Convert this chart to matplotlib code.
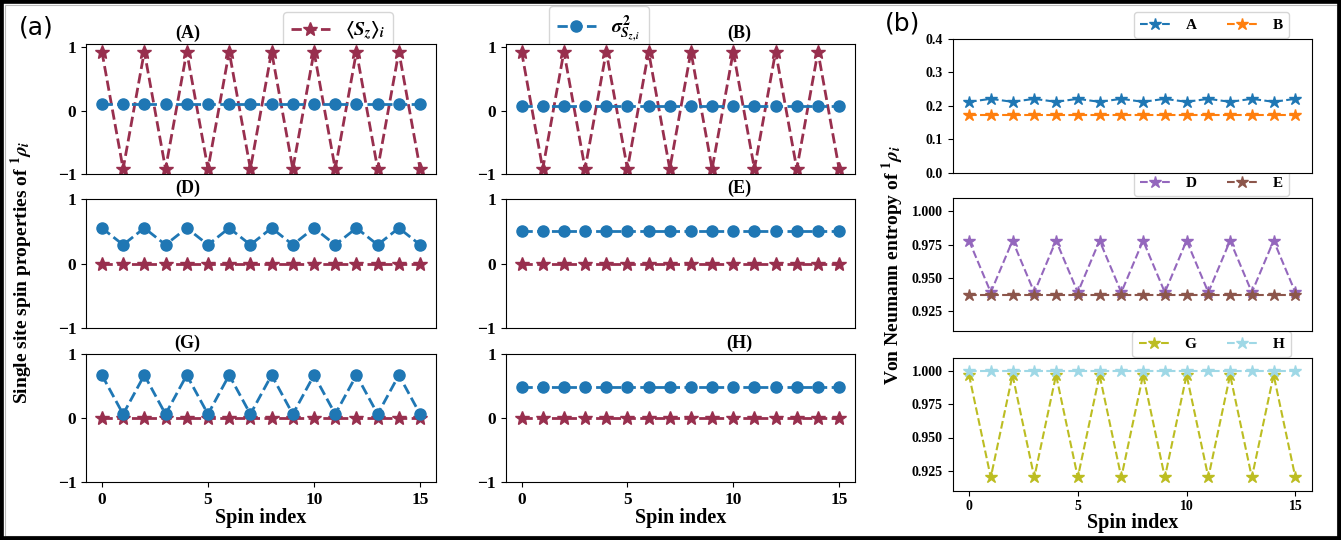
import numpy as np
import matplotlib
matplotlib.use("Agg")
import matplotlib.pyplot as plt
from matplotlib.patches import Rectangle
from matplotlib.lines import Line2D

plt.rcParams['font.family'] = ['Liberation Serif', 'DejaVu Serif']
plt.rcParams['font.weight'] = 'bold'
plt.rcParams['axes.labelweight'] = 'bold'
plt.rcParams['mathtext.fontset'] = 'stix'

# ---------------- data ----------------
spin_index = list(range(16))
xticks = [0, 5, 10, 15]

# panel (a): <S_z>_i
sz_A = [0.93, -0.92, 0.93, -0.92, 0.93, -0.92, 0.93, -0.92,
        0.93, -0.92, 0.93, -0.92, 0.93, -0.92, 0.93, -0.92]
sz_B = [0.93, -0.92, 0.93, -0.92, 0.93, -0.92, 0.93, -0.92,
        0.93, -0.92, 0.93, -0.92, 0.93, -0.92, 0.93, -0.92]
sz_D = [0.0] * 16
sz_E = [0.0] * 16
sz_G = [0.0] * 16
sz_H = [0.0] * 16

# panel (a): sigma^2
sig_A = [0.11, 0.11, 0.11, 0.11, 0.11, 0.11, 0.11, 0.11,
         0.11, 0.11, 0.11, 0.11, 0.11, 0.11, 0.11, 0.11]
sig_B = [0.08, 0.08, 0.08, 0.08, 0.08, 0.08, 0.08, 0.08,
         0.08, 0.08, 0.08, 0.08, 0.08, 0.08, 0.08, 0.08]
sig_D = [0.55, 0.29, 0.55, 0.29, 0.55, 0.29, 0.55, 0.29,
         0.55, 0.29, 0.55, 0.29, 0.55, 0.29, 0.55, 0.29]
sig_E = [0.51, 0.51, 0.51, 0.51, 0.51, 0.51, 0.51, 0.51,
         0.51, 0.51, 0.51, 0.51, 0.51, 0.51, 0.51, 0.51]
sig_G = [0.67, 0.06, 0.67, 0.06, 0.67, 0.06, 0.67, 0.06,
         0.67, 0.06, 0.67, 0.06, 0.67, 0.06, 0.67, 0.06]
sig_H = [0.49, 0.49, 0.49, 0.49, 0.49, 0.49, 0.49, 0.49,
         0.49, 0.49, 0.49, 0.49, 0.49, 0.49, 0.49, 0.49]

# panel (b): von Neumann entropy
S_A = [0.212, 0.221, 0.212, 0.221, 0.212, 0.221, 0.212, 0.221,
       0.212, 0.221, 0.212, 0.221, 0.212, 0.221, 0.212, 0.221]
S_B = [0.173, 0.173, 0.173, 0.173, 0.173, 0.173, 0.173, 0.173,
       0.173, 0.173, 0.173, 0.173, 0.173, 0.173, 0.173, 0.173]
S_D = [0.978, 0.939, 0.978, 0.939, 0.978, 0.939, 0.978, 0.939,
       0.978, 0.939, 0.978, 0.939, 0.978, 0.939, 0.978, 0.939]
S_E = [0.937, 0.937, 0.937, 0.937, 0.937, 0.937, 0.937, 0.937,
       0.937, 0.937, 0.937, 0.937, 0.937, 0.937, 0.937, 0.937]
S_G = [0.997, 0.920, 0.997, 0.920, 0.997, 0.920, 0.997, 0.920,
       0.997, 0.920, 0.997, 0.920, 0.997, 0.920, 0.997, 0.920]
S_H = [1.000, 1.000, 1.000, 1.000, 1.000, 1.000, 1.000, 1.000,
       1.000, 1.000, 1.000, 1.000, 1.000, 1.000, 1.000, 1.000]

left_titles = ['(A)', '(B)', '(D)', '(E)', '(G)', '(H)']
sz_series = [sz_A, sz_B, sz_D, sz_E, sz_G, sz_H]
sig_series = [sig_A, sig_B, sig_D, sig_E, sig_G, sig_H]

right_labels = [('A', 'B'), ('D', 'E'), ('G', 'H')]
right_series = [(S_A, S_B), (S_D, S_E), (S_G, S_H)]
right_colors = [('#1f77b4', '#ff7f0e'), ('#9467bd', '#8c564b'), ('#bcbd22', '#9fd8e6')]
right_ylims = [(0.0, 0.4), (0.91, 1.01), (0.91, 1.01)]
right_yticks = [[0.0, 0.1, 0.2, 0.3, 0.4], [0.925, 0.950, 0.975, 1.000], [0.925, 0.950, 0.975, 1.000]]

SZ_COLOR = '#982f4e'
SIG_COLOR = '#1f77b4'

W, H = 1341, 540
fig = plt.figure(figsize=(W / 100, H / 100), dpi=100)

def frac(x0, y0, x1, y1):
    return [x0 / W, 1 - y1 / H, (x1 - x0) / W, (y1 - y0) / H]

col_x = [(86, 436), (505.7, 855)]
row_y = [(44, 174), (199, 328), (354, 482)]
title_x = [0.29, 0.67]

left_axes = []
for r in range(3):
    for c in range(2):
        k = r * 2 + c
        ax = fig.add_axes(frac(col_x[c][0], row_y[r][0], col_x[c][1], row_y[r][1]))
        ax.plot(spin_index, sz_series[k], ls='--', marker='*', color=SZ_COLOR,
                lw=2, ms=10)
        ax.plot(spin_index, sig_series[k], ls='--', marker='o', color=SIG_COLOR,
                lw=2, ms=8)
        if r == 0:
            ax.set_ylim(-1.0, 1.05)
        else:
            ax.set_ylim(-1.0, 1.0)
        ax.set_yticks([-1, 0, 1])
        ax.tick_params(labelsize=12.5)
        if r < 2:
            ax.set_xticks([])
        else:
            ax.set_xticks(xticks)
            ax.set_xlabel('Spin index', fontsize=14.5, labelpad=0)
        ax.text(title_x[c], 1.085, left_titles[k], transform=ax.transAxes,
                ha='center', va='center', fontsize=13, fontweight='bold')
        left_axes.append(ax)

# left legends (drawn behind axes)
h_sz = Line2D([], [], ls='--', marker='*', color=SZ_COLOR, lw=2, ms=10)
h_sig = Line2D([], [], ls='--', marker='o', color=SIG_COLOR, lw=2, ms=8)
leg1 = fig.legend([h_sz], [r'$\langle S_z\rangle_i$'], loc='center',
                  bbox_to_anchor=(338 / W, 1 - 31 / H), fontsize=14)
leg1.set_zorder(-1)
leg2 = fig.legend([h_sig], [r'$\sigma^2_{S_{z,i}}$'], loc='center',
                  bbox_to_anchor=(599 / W, 1 - 29 / H), fontsize=14)
leg2.set_zorder(-1)

# right panel
rrow_y = [(39, 172.7), (198, 331), (357.7, 490.7)]
leg_y = [25, 183.3, 344]
for r in range(3):
    ax = fig.add_axes(frac(952.7, rrow_y[r][0], 1311.7, rrow_y[r][1]))
    (s1, s2) = right_series[r]
    (l1, l2) = right_labels[r]
    (c1, c2) = right_colors[r]
    ax.plot(spin_index, s1, ls='--', marker='*', color=c1, lw=1.5, ms=9, label=l1)
    ax.plot(spin_index, s2, ls='--', marker='*', color=c2, lw=1.5, ms=9, label=l2)
    ax.set_ylim(*right_ylims[r])
    ax.set_yticks(right_yticks[r])
    if r == 0:
        ax.set_yticklabels(['0.0', '0.1', '0.2', '0.3', '0.4'])
    else:
        ax.set_yticklabels(['0.925', '0.950', '0.975', '1.000'])
    ax.tick_params(labelsize=10)
    if r < 2:
        ax.set_xticks([])
    else:
        ax.set_xticks(xticks)
        ax.set_xlabel('Spin index', fontsize=14.5, labelpad=0)
    lg = fig.legend(loc='center', bbox_to_anchor=(1211.5 / W, 1 - leg_y[r] / H),
                    ncol=2, fontsize=11, handles=ax.get_lines(),
                    columnspacing=2.0, handletextpad=1.0)
    lg.set_zorder(-1)

# axis labels
fig.text(22 / W, 0.496, r'Single site spin properties of ${}^1\rho_i$', rotation=90,
         ha='center', va='center', fontsize=14, fontweight='bold')
fig.text(893 / W, 0.51, r'Von Neumann entropy of ${}^1\rho_i$', rotation=90,
         ha='center', va='center', fontsize=14, fontweight='bold')

# panel letters
fig.text(36 / W, 1 - 27 / H, '(a)', ha='center', va='center', fontsize=18,
         family='DejaVu Sans', fontweight='normal')
fig.text(903 / W, 1 - 24 / H, '(b)', ha='center', va='center', fontsize=18,
         family='DejaVu Sans', fontweight='normal')

# borders
fig.patches.append(Rectangle((4.5 / W, 4.5 / H), 1 - 9 / W, 1 - 9 / H,
                             transform=fig.transFigure, fill=False,
                             edgecolor='#bbbbbb', linewidth=0.8))
fig.patches.append(Rectangle((0, 0), 1, 1, transform=fig.transFigure, fill=False,
                             edgecolor='black', linewidth=5.5))

fig.savefig('out.png', dpi=100)
